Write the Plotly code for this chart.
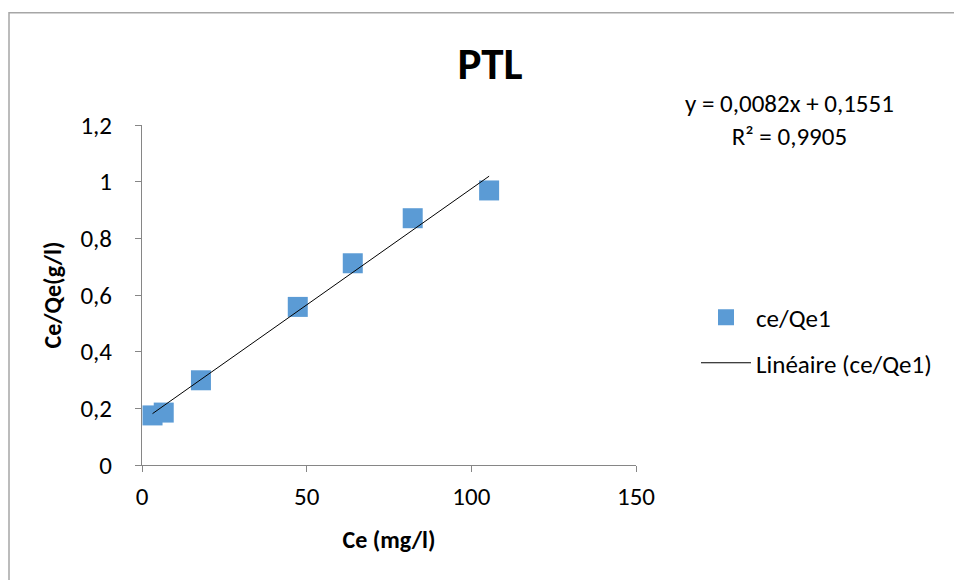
import plotly.graph_objects as go
import numpy as np

# ---- data ----
ce = [3.2, 6.6, 17.9, 47.3, 64.0, 82.2, 105.4]
ce_qe = [0.175, 0.185, 0.299, 0.558, 0.712, 0.871, 0.969]
slope = 0.0082
intercept = 0.1551
r2_text = "0,9905"
x_ticks = [0, 50, 100, 150]
x_tick_labels = ["0", "50", "100", "150"]
y_ticks = [0, 0.2, 0.4, 0.6, 0.8, 1.0, 1.2]
y_tick_labels = ["0", "0,2", "0,4", "0,6", "0,8", "1", "1,2"]
series_name = "ce/Qe1"
trend_name = "Linéaire (ce/Qe1)"
title_text = "PTL"
x_title = "Ce (mg/l)"
y_title = "Ce/Qe(g/l)"

FONT = "Calibri, Carlito, Lato, sans-serif"
AX = "#868686"

trend_x = [min(ce), max(ce)]
trend_y = [slope * v + intercept for v in trend_x]

fig = go.Figure()
fig.add_trace(go.Scatter(
    x=ce, y=ce_qe, mode="markers", name=series_name, legendgroup="a",
    marker=dict(symbol="square", size=20, color="#5B9BD5", line=dict(width=0)),
))
fig.add_trace(go.Scatter(
    x=trend_x, y=trend_y, mode="lines", name=trend_name, legendgroup="b",
    line=dict(color="black", width=1),
))

eq = "y = " + f"{slope:.4f}".replace(".", ",") + "x + " + f"{intercept:.4f}".replace(".", ",") + "<br>R² = " + r2_text

fig.update_layout(
    width=954, height=580,
    margin=dict(l=142, r=318, t=125, b=115),
    paper_bgcolor="white", plot_bgcolor="white",
    font=dict(family=FONT, size=25, color="black"),
    title=dict(text=f"<b>{title_text}</b>", xref="container", yref="container",
               x=490 / 954, y=1 - 63 / 580, xanchor="center", yanchor="middle",
               font=dict(family=FONT, size=45, color="black")),
    showlegend=True,
    legend=dict(x=(696 - 142) / 494, y=(465 - 340) / 340, xanchor="left", yanchor="middle",
                traceorder="grouped", tracegroupgap=10, itemwidth=50,
                font=dict(family=FONT, size=25, color="black"),
                bgcolor="rgba(0,0,0,0)"),
    xaxis=dict(range=[0, 150], tickvals=x_ticks, ticktext=x_tick_labels,
               showline=True, linecolor=AX, linewidth=1, ticks="outside", ticklen=6,
               tickcolor=AX, showgrid=False, zeroline=False, ticklabelstandoff=3,
               title=dict(text=f"<b>{x_title}</b>", standoff=20,
                          font=dict(family=FONT, size=24))),
    yaxis=dict(range=[0, 1.2], tickvals=y_ticks, ticktext=y_tick_labels,
               showline=True, linecolor=AX, linewidth=1, ticks="outside", ticklen=6,
               tickcolor=AX, showgrid=False, zeroline=False, ticklabelstandoff=18,
               title=dict(text=f"<b>{y_title}</b>", standoff=12,
                          font=dict(family=FONT, size=24))),
    annotations=[dict(text=eq, xref="paper", yref="paper",
                      x=(789 - 142) / 494, y=(465 - 120) / 340,
                      xanchor="center", yanchor="middle", showarrow=False,
                      align="center", font=dict(family=FONT, size=25, color="black"))],
    shapes=[dict(type="rect", xref="paper", yref="paper",
                 x0=(9 - 142) / 494, x1=1.75, y0=-0.5, y1=(465 - 12.7) / 340,
                 line=dict(color="#a6a6a6", width=1.5), fillcolor="rgba(0,0,0,0)",
                 layer="below")],
)

fig.write_html("out.html")
